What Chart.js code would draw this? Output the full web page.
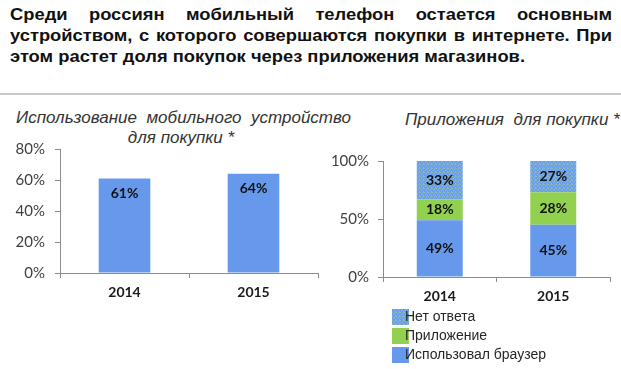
<!DOCTYPE html>
<html>
<head>
<meta charset="utf-8">
<script src="https://cdn.jsdelivr.net/npm/chart.js@4"></script>
<style>
  body { margin: 0; width: 621px; height: 369px; background: #fff; position: relative; overflow: hidden; font-family: "Liberation Sans", Arial, sans-serif; }
  #head { position: absolute; left: 10px; top: 4px; transform-origin: 0 0; font-weight: bold; font-size: 17px; line-height: 21px; color: #111; white-space: nowrap; }
  #head .j { text-align: justify; text-align-last: justify; white-space: normal; }
  #sep { position: absolute; left: 0; top: 93px; width: 621px; height: 2px; background: #c8c8c8; }
  .ttl { position: absolute; font-style: italic; font-size: 17px; line-height: 20px; color: #333; white-space: pre; text-align: center; }
  canvas { position: absolute; }
</style>
</head>
<body>
<div id="head">
  <div class="j">Среди россиян мобильный телефон остается основным</div>
  <div class="j">устройством, с которого совершаются покупки в интернете. При</div>
  <div><span id="l3">этом растет доля покупок через приложения магазинов.</span></div>
</div>
<div id="sep"></div>
<div class="ttl" style="left:16px; top:108px; width:330px;">Использование  мобильного  устройство
для покупки *</div>
<div class="ttl" style="left:405px; top:110px;">Приложения  для покупки *</div>
<canvas id="left" width="320" height="180" style="left:0; top:130px;"></canvas>
<canvas id="right" width="301" height="229" style="left:320px; top:140px;"></canvas>
<script>
const years = ['2014', '2015'];
// left chart
const mobileShare = [61, 64];
// right chart, bottom to top
const browserShare = [49, 45];
const appShare = [18, 28];
const noAnswerShare = [33, 27];
const seriesNames = ['Использовал браузер', 'Приложение', 'Нет ответа'];

// fit the headline to the original line length
const head = document.getElementById('head');
const w3 = document.getElementById('l3').getBoundingClientRect().width;
const s = 515 / w3;
head.style.width = (602 / s) + 'px';
head.style.transform = `scaleX(${s})`;

const blue = '#6699ec';
const green = '#92d050';

function speckle(ctx) {
  const c = document.createElement('canvas');
  c.width = c.height = 4;
  const x = c.getContext('2d');
  x.fillStyle = '#6a9ee6';
  x.fillRect(0, 0, 4, 4);
  x.fillStyle = '#8fbcb0';
  [[0, 0], [2, 1], [1, 2], [3, 3], [3, 0]].forEach(([a, b]) => x.fillRect(a, b, 1, 1));
  return ctx.createPattern(c, 'repeat');
}

const valueLabels = {
  id: 'valueLabels',
  afterDatasetsDraw(chart, args, opts) {
    const ctx = chart.ctx;
    ctx.save();
    ctx.font = 'bold 14px Lato, sans-serif';
    ctx.fillStyle = '#111';
    ctx.textAlign = 'center';
    ctx.textBaseline = 'middle';
    chart.data.datasets.forEach((ds, i) => {
      chart.getDatasetMeta(i).data.forEach((bar, j) => {
        const y = opts.inside ? bar.y + opts.inside : (bar.y + bar.base) / 2;
        ctx.fillText(ds.data[j] + '%', bar.x, y);
      });
    });
    ctx.restore();
  }
};

const sideLegend = {
  id: 'sideLegend',
  afterDraw(chart) {
    const { ctx, chartArea } = chart;
    const sets = chart.data.datasets.slice().reverse();
    ctx.save();
    ctx.font = '14px "Liberation Sans", sans-serif';
    ctx.textBaseline = 'middle';
    sets.forEach((ds, k) => {
      const y = chartArea.bottom + 40 + k * 19;
      ctx.fillStyle = ds.backgroundColor;
      ctx.fillRect(chartArea.left + 9, y - 8, 17, 16);
      ctx.fillStyle = '#262626';
      ctx.fillText(ds.label, chartArea.left + 22, y);
    });
    ctx.restore();
  }
};

function axes(max, step, yWidth, yPad, xHeight) {
  const line = '#8c8c8c';
  return {
    x: {
      grid: { offset: true, drawOnChartArea: false, tickLength: 5, color: line },
      border: { color: line },
      ticks: { font: { family: 'Lato', size: 14, weight: 'bold' }, color: '#1a1a1a', padding: 6 },
      afterFit: sc => { sc.height = xHeight; }
    },
    y: {
      min: 0, max: max,
      grid: { drawOnChartArea: false, tickLength: 5, color: line },
      border: { color: line },
      ticks: { stepSize: step, font: { family: 'Lato', size: 15 }, color: '#404040', padding: yPad, callback: v => v + '%' },
      afterFit: sc => { sc.width = yWidth; }
    }
  };
}

new Chart(document.getElementById('left'), {
  type: 'bar',
  data: {
    labels: years,
    datasets: [{ label: 'Мобильное устройство', data: mobileShare, backgroundColor: blue, categoryPercentage: 1, barPercentage: 0.4 }]
  },
  options: {
    responsive: false,
    animation: false,
    layout: { padding: { top: 13, right: 2, bottom: 0, left: 0 } },
    plugins: { legend: { display: false }, tooltip: { enabled: false }, valueLabels: { inside: 15 } },
    scales: axes(80, 20, 60, 10, 37)
  },
  plugins: [valueLabels]
});

const rightCanvas = document.getElementById('right');
new Chart(rightCanvas, {
  type: 'bar',
  data: {
    labels: years,
    datasets: [
      { label: seriesNames[0], data: browserShare, backgroundColor: blue },
      { label: seriesNames[1], data: appShare, backgroundColor: green },
      { label: seriesNames[2], data: noAnswerShare, backgroundColor: speckle(rightCanvas.getContext('2d')) }
    ].map(d => Object.assign(d, { categoryPercentage: 1, barPercentage: 0.405 }))
  },
  options: {
    responsive: false,
    animation: false,
    layout: { padding: { top: 21, right: 11, bottom: 62, left: 0 } },
    plugins: { legend: { display: false }, tooltip: { enabled: false }, valueLabels: {} },
    scales: (() => {
      const a = axes(100, 50, 63, 9, 30);
      a.x.stacked = true;
      a.y.stacked = true;
      return a;
    })()
  },
  plugins: [valueLabels, sideLegend]
});
</script>
</body>
</html>
